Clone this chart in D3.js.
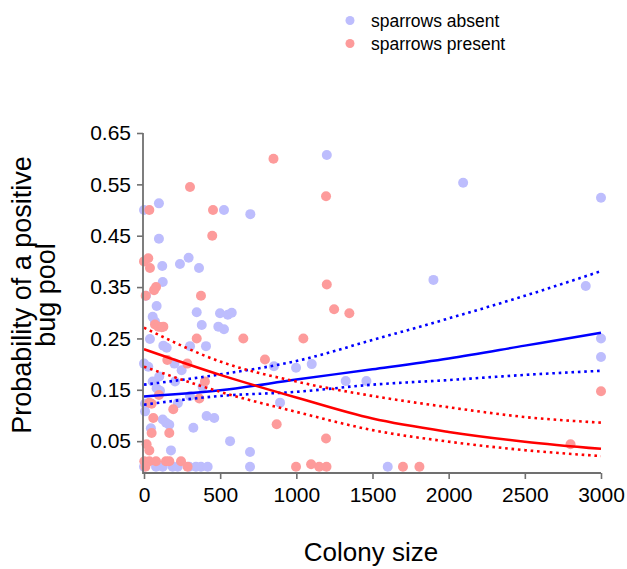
<!DOCTYPE html>
<html>
<head>
<meta charset="utf-8">
<script src="https://cdn.jsdelivr.net/npm/d3@7"></script>
<style>
  body { margin: 0; background: #fff; }
  svg { display: block; font-family: Arial, "Liberation Sans", sans-serif; }
</style>
</head>
<body>
<div id="chart"></div>
<script>
// scatter: [colony size, probability]
const absentPoints = [
  [1200, 0.607], [2095, 0.553], [3000, 0.524], [0, 0.50], [98, 0.513], [525, 0.50],
  [698, 0.492], [98, 0.444], [120, 0.391], [236, 0.395], [293, 0.407], [361, 0.387],
  [123, 0.36], [13, 0.333], [1900, 0.364], [2900, 0.352], [83, 0.313], [346, 0.301],
  [499, 0.299], [550, 0.296], [576, 0.30], [57, 0.292], [72, 0.283], [379, 0.276],
  [488, 0.273], [525, 0.268], [39, 0.249], [127, 0.236], [149, 0.232], [302, 0.235],
  [407, 0.235], [200, 0.201], [247, 0.188], [0, 0.201], [28, 0.195], [853, 0.196],
  [998, 0.193], [1101, 0.20], [57, 0.166], [100, 0.176], [204, 0.166], [385, 0.156],
  [83, 0.153], [105, 0.148], [302, 0.138], [7, 0.123], [893, 0.125], [222, 0.124],
  [7, 0.108], [123, 0.092], [145, 0.086], [166, 0.082], [411, 0.099], [461, 0.095],
  [324, 0.076], [45, 0.075], [565, 0.05], [177, 0.032], [696, 0.029],
  [0, 0], [79, 0], [123, 0], [188, 0], [221, 0], [297, 0], [341, 0], [374, 0],
  [418, 0], [696, 0], [1600, 0],
  [1324, 0.167], [1460, 0.167], [3000, 0.25], [3000, 0.214]
];

const presentPoints = [
  [850, 0.60], [302, 0.545], [1195, 0.527], [35, 0.50], [453, 0.50], [448, 0.45],
  [0, 0.40], [28, 0.406], [39, 0.387], [79, 0.35], [66, 0.344], [11, 0.333],
  [374, 0.333], [1200, 0.355], [72, 0.277], [94, 0.273], [116, 0.272], [127, 0.273],
  [346, 0.25], [652, 0.25], [1046, 0.25], [153, 0.208], [284, 0.201], [794, 0.209],
  [400, 0.166], [98, 0.14], [363, 0.133], [35, 0.125], [50, 0.123], [192, 0.112],
  [61, 0.095], [871, 0.083], [50, 0.066], [166, 0.066], [1195, 0.055], [17, 0.044],
  [35, 0.032], [2, 0.011], [35, 0.011], [79, 0.011], [144, 0.011], [166, 0.011],
  [243, 0.011], [9, 0], [286, 0], [998, 0], [1097, 0.005], [1150, 0], [1198, 0],
  [1700, 0], [1808, 0], [1248, 0.307], [1348, 0.299], [3000, 0.147], [2800, 0.044]
];

// fitted curves, read at every 500
const fitX = [0, 500, 1000, 1500, 2000, 2500, 3000];
const absentFit = [0.137, 0.149, 0.170, 0.190, 0.211, 0.236, 0.261];
const absentUpper = [0.160, 0.180, 0.206, 0.247, 0.289, 0.333, 0.381];
const absentLower = [0.121, 0.138, 0.146, 0.160, 0.169, 0.179, 0.187];
const presentFit = [0.229, 0.179, 0.135, 0.094, 0.068, 0.049, 0.035];
const presentUpper = [0.271, 0.205, 0.166, 0.138, 0.116, 0.097, 0.086];
const presentLower = [0.195, 0.146, 0.107, 0.0715, 0.049, 0.0325, 0.021];

const xTicks = [0, 500, 1000, 1500, 2000, 2500, 3000];
const yTicks = [0.05, 0.15, 0.25, 0.35, 0.45, 0.55, 0.65];

const series = [
  { name: 'sparrows absent', points: absentPoints, fit: absentFit, upper: absentUpper, lower: absentLower, dot: '#bdbdfd', line: '#0000ff' },
  { name: 'sparrows present', points: presentPoints, fit: presentFit, upper: presentUpper, lower: presentLower, dot: '#fd9b9b', line: '#ff0000' }
];

let chart = {};

chart.create = function(element, state) {
  const { width, height } = state;
  const svg = d3.select(element).append('svg')
    .attr('width', width)
    .attr('height', height);

  const x = d3.scaleLinear().domain([0, 3000]).range([144, 601]);
  const y = d3.scaleLinear().domain([-0.012, 0.65]).range([473, 133]);

  this._drawPoints(svg, x, y);
  this._drawFits(svg, x, y);
  this._drawAxes(svg, x, y);
  this._drawLegend(svg);
};

chart._drawPoints = function(svg, x, y) {
  series.forEach(function(s) {
    svg.append('g')
      .selectAll('circle')
      .data(s.points)
      .enter()
      .append('circle')
      .attr('cx', d => x(d[0]))
      .attr('cy', d => y(d[1]))
      .attr('r', 5)
      .attr('fill', s.dot);
  });
};

chart._drawFits = function(svg, x, y) {
  const line = d3.line()
    .curve(d3.curveMonotoneX)
    .x((d, i) => x(fitX[i]))
    .y(d => y(d));

  series.forEach(function(s) {
    const g = svg.append('g').attr('fill', 'none').attr('stroke', s.line);
    g.append('path')
      .attr('d', line(s.fit))
      .attr('stroke-width', 2.5);
    [s.upper, s.lower].forEach(function(band) {
      g.append('path')
        .attr('d', line(band))
        .attr('stroke-width', 2.6)
        .attr('stroke-dasharray', '2.6,3.8');
    });
  });
};

chart._drawAxes = function(svg, x, y) {
  const axisColor = '#707070';

  const xAxis = svg.append('g')
    .attr('transform', 'translate(0,473)')
    .call(d3.axisBottom(x).tickValues(xTicks).tickSize(6).tickPadding(8).tickFormat(d3.format('d')));

  const yAxis = svg.append('g')
    .attr('transform', 'translate(143,0)')
    .call(d3.axisLeft(y).tickValues(yTicks).tickSize(6).tickPadding(6).tickFormat(d3.format('.2f')));

  [xAxis, yAxis].forEach(function(a) {
    a.select('.domain').remove();
    a.selectAll('.tick line').attr('stroke', axisColor).attr('stroke-width', 1.6);
    a.selectAll('text')
      .attr('fill', '#000')
      .style('font-size', '21px')
      .style('font-family', 'Arial, "Liberation Sans", sans-serif');
  });

  // axis lines joined at the corner
  svg.append('line')
    .attr('x1', 143).attr('x2', x(3000))
    .attr('y1', 473).attr('y2', 473)
    .attr('stroke', axisColor).attr('stroke-width', 1.8);
  svg.append('line')
    .attr('x1', 143).attr('x2', 143)
    .attr('y1', y(0.65)).attr('y2', 473.9)
    .attr('stroke', axisColor).attr('stroke-width', 1.8);

  svg.append('text')
    .attr('x', 371)
    .attr('y', 561)
    .attr('text-anchor', 'middle')
    .style('font-size', '26px')
    .text('Colony size');

  const yTitle = svg.append('text')
    .attr('transform', 'translate(0,295) rotate(-90)')
    .attr('text-anchor', 'middle')
    .style('font-size', '27px');
  yTitle.append('tspan').attr('x', 0).attr('y', 31).text('Probability of a positive');
  yTitle.append('tspan').attr('x', 0).attr('y', 55).text('bug pool');
};

chart._drawLegend = function(svg) {
  const item = svg.append('g')
    .selectAll('g')
    .data(series)
    .enter()
    .append('g')
    .attr('transform', (d, i) => 'translate(350,' + (20.5 + i * 23) + ')');

  item.append('circle')
    .attr('r', 4.5)
    .attr('fill', d => d.dot);

  item.append('text')
    .attr('x', 21)
    .attr('y', 6)
    .style('font-size', '17.5px')
    .text(d => d.name);
};

chart.create('#chart', { width: 627, height: 569 });
</script>
</body>
</html>
